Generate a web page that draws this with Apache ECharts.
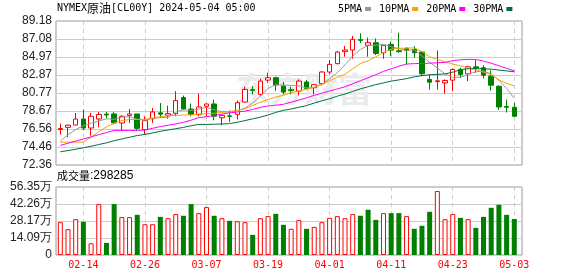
<!DOCTYPE html>
<html lang="zh">
<head>
  <meta charset="utf-8" />
  <title>NYMEX原油 K线</title>
</head>
<body style="margin: 0">
  <div id="container" style="width: 578px; height: 276px"></div>

  <script src="https://fastly.jsdelivr.net/npm/echarts@6/dist/echarts.min.js"></script>

  <script>
    // 日期
    var dates = [
      '02-09', '02-12', '02-13', '02-14', '02-15', '02-16', '02-19', '02-20', '02-21', '02-22',
      '02-23', '02-26', '02-27', '02-28', '02-29', '03-01', '03-04', '03-05', '03-06', '03-07',
      '03-08', '03-11', '03-12', '03-13', '03-14', '03-15', '03-18', '03-19', '03-20', '03-21',
      '03-22', '03-25', '03-26', '03-27', '03-28', '04-01', '04-02', '04-03', '04-04', '04-05',
      '04-08', '04-09', '04-10', '04-11', '04-12', '04-15', '04-16', '04-17', '04-18', '04-19',
      '04-22', '04-23', '04-24', '04-25', '04-26', '04-29', '04-30', '05-01', '05-02', '05-03'
    ];

    // 开盘, 收盘, 最低, 最高
    var ohlc = [
      [76.50, 76.62, 75.90, 77.20], [76.75, 77.00, 75.60, 77.10], [77.03, 77.73, 77.00, 78.44],
      [77.73, 76.68, 76.41, 78.83], [76.68, 78.05, 75.78, 78.44], [77.73, 78.25, 76.76, 78.56],
      [78.30, 78.20, 77.80, 78.56], [78.32, 77.27, 77.11, 78.56], [77.27, 78.05, 76.41, 78.17],
      [78.13, 78.32, 77.27, 78.90], [78.32, 76.64, 76.41, 78.32], [76.50, 77.55, 75.90, 78.05],
      [77.77, 78.56, 77.27, 79.02], [78.45, 78.30, 77.85, 79.60], [78.17, 78.36, 77.77, 79.30],
      [78.36, 79.88, 78.05, 80.98], [80.23, 78.90, 78.80, 80.47], [78.90, 78.25, 78.05, 79.53],
      [78.25, 79.14, 78.05, 80.70], [79.22, 79.49, 78.00, 79.49], [79.49, 78.05, 77.58, 80.00],
      [77.88, 78.15, 76.98, 78.15], [78.10, 78.05, 77.37, 78.74], [78.27, 79.64, 77.68, 79.90],
      [79.71, 81.19, 79.64, 81.50], [81.15, 81.07, 80.60, 81.58], [80.61, 82.16, 80.41, 82.44],
      [82.28, 82.56, 81.97, 83.14], [82.56, 81.70, 80.99, 82.68], [81.58, 80.88, 80.60, 82.05],
      [81.15, 81.05, 80.60, 81.50], [80.99, 82.16, 80.49, 82.36], [82.05, 81.31, 81.20, 82.28],
      [81.39, 81.74, 80.60, 81.78], [81.86, 83.22, 81.66, 83.33], [83.22, 84.12, 82.95, 84.62],
      [84.20, 85.55, 84.12, 85.67], [85.60, 85.79, 85.01, 86.26], [85.79, 87.04, 84.78, 87.43],
      [87.00, 86.92, 86.57, 87.74], [86.34, 86.65, 85.01, 87.24], [86.64, 85.39, 85.20, 87.14],
      [85.47, 86.33, 84.77, 86.33], [86.45, 85.78, 85.08, 86.76], [85.70, 85.60, 85.47, 87.81],
      [85.98, 85.74, 84.10, 86.13], [85.86, 85.47, 84.88, 86.25], [85.55, 83.01, 82.74, 85.67],
      [82.35, 82.03, 81.17, 82.93], [82.10, 82.20, 81.17, 85.74], [81.95, 82.23, 80.70, 82.35],
      [82.27, 83.52, 80.98, 83.64], [83.52, 82.93, 82.54, 83.72], [83.01, 83.83, 82.15, 83.91],
      [83.83, 83.70, 83.13, 84.60], [83.72, 82.85, 82.46, 83.99], [82.74, 81.68, 81.05, 83.40],
      [81.56, 79.14, 78.80, 81.64], [79.20, 79.10, 78.50, 80.00], [79.10, 78.05, 78.05, 79.60]
    ];

    // 成交量
    var volumes = [
      272000, 214000, 297000, 275000, 97000, 422000, 100000, 422000, 314000, 314000,
      333000, 255000, 255000, 316000, 305000, 339000, 325000, 422000, 347000, 397000,
      325000, 305000, 283000, 280000, 272000, 167000, 305000, 322000, 341000, 250000,
      217000, 289000, 217000, 233000, 272000, 308000, 322000, 305000, 339000, 325000,
      375000, 291000, 347000, 347000, 347000, 322000, 217000, 242000, 358000, 530000,
      297000, 339000, 308000, 297000, 225000, 316000, 391000, 416000, 333000, 298285
    ];

    // 均线
    var ma5 = [
      75.14, 75.90, 76.50, 76.95, 77.25, 77.50, 77.75, 77.70, 77.95, 78.00,
      77.70, 77.60, 77.80, 77.90, 77.90, 78.55, 78.80, 78.75, 78.90, 79.10,
      78.80, 78.60, 78.55, 78.65, 79.00, 79.60, 80.40, 81.30, 81.75, 81.70,
      81.65, 81.60, 81.35, 81.40, 81.80, 82.45, 83.15, 84.05, 85.10, 85.85,
      86.35, 86.35, 86.45, 86.20, 85.95, 85.75, 85.80, 85.10, 84.35, 83.70,
      83.00, 82.60, 82.60, 82.95, 83.25, 83.35, 83.00, 82.25, 81.30, 80.15
    ];
    var ma10 = [
      75.03, 75.03, 75.03, 75.03, 75.60, 76.25, 76.80, 77.25, 77.55, 77.68,
      77.68, 77.70, 77.85, 78.00, 78.10, 78.15, 78.20, 78.22, 78.30, 78.35,
      78.40, 78.50, 78.60, 78.75, 78.95, 79.30, 79.70, 80.00, 80.30, 80.50,
      80.80, 81.00, 81.20, 81.45, 81.80, 82.20, 82.60, 82.95, 83.60, 84.20,
      84.55, 85.00, 85.50, 85.90, 86.00, 86.00, 86.05, 85.60, 85.00, 84.70,
      84.40, 84.15, 83.95, 83.70, 83.50, 83.20, 82.90, 82.30, 81.90, 81.60
    ];
    var ma20 = [
      74.65, 74.90, 75.15, 75.40, 75.65, 75.90, 76.15, 76.40, 76.40, 76.40,
      76.40, 76.45, 76.65, 76.85, 77.00, 77.15, 77.35, 77.60, 77.90, 78.00,
      78.15, 78.30, 78.45, 78.55, 78.65, 78.85, 79.10, 79.25, 79.35, 79.45,
      79.70, 79.95, 80.20, 80.50, 80.75, 81.00, 81.25, 81.50, 81.85, 82.20,
      82.55, 82.90, 83.30, 83.60, 83.90, 84.15, 84.20, 84.22, 84.25, 84.30,
      84.35, 84.55, 84.65, 84.70, 84.68, 84.50, 84.25, 83.95, 83.65, 83.35
    ];
    var ma30 = [
      73.90, 74.05, 74.20, 74.37, 74.55, 74.75, 74.95, 75.20, 75.40, 75.60,
      75.80, 75.93, 76.10, 76.30, 76.45, 76.60, 76.75, 76.95, 77.10, 77.10,
      77.12, 77.15, 77.20, 77.35, 77.55, 77.75, 77.95, 78.20, 78.50, 78.75,
      78.90, 79.10, 79.30, 79.60, 79.85, 80.10, 80.40, 80.65, 80.95, 81.25,
      81.50, 81.75, 81.95, 82.15, 82.30, 82.45, 82.65, 82.80, 82.90, 82.95,
      83.00, 83.20, 83.50, 83.60, 83.62, 83.60, 83.55, 83.45, 83.35, 83.25
    ];

    // 刻度标签
    var priceTicks = ['72.36', '74.46', '76.56', '78.67', '80.77', '82.87', '84.97', '87.08', '89.18'];
    var volTicks = ['0', '14.09万', '28.17万', '42.26万', '56.35万'];

    var priceMin = 72.36, priceMax = 89.18, volMax = 563500;

    var red = '#ff0000', green = '#008000';
    var mono = '"DejaVu Sans Mono", monospace';

    // 成交量颜色: 收盘价比前一天高为红
    var volData = [];
    for (var i = 0; i < volumes.length; i++) {
      var up = i === 0 || ohlc[i][1] >= ohlc[i - 1][1];
      volData.push({
        value: volumes[i],
        itemStyle: up ? { color: '#fff', borderColor: red, borderWidth: 1 } : { color: green }
      });
    }

    var showIdx = function (index) { return (index - 3) % 8 === 0; };

    var dom = document.getElementById('container');
    var myChart = echarts.init(dom);

    var option = {
      animation: false,
      title: [
        {
          text: '{a|NYMEX}{b|原油}{a|[CL00Y] 2024-05-04 05:00}',
          left: 57, top: 2, padding: 0,
          textStyle: {
            fontWeight: 'normal',
            rich: {
              a: { fontFamily: mono, fontSize: 10, fontWeight: 'normal', color: '#000' },
              b: { fontFamily: '"Noto Sans CJK SC"', fontSize: 12, fontWeight: 'normal', color: '#000' }
            }
          }
        },
        {
          text: '{c|成交量}{n|:' + volumes[volumes.length - 1] + '}',
          left: 57, top: 170, padding: 0,
          textStyle: {
            fontWeight: 'normal',
            rich: {
              c: { fontFamily: '"Noto Sans CJK SC"', fontSize: 11, fontWeight: 'normal', color: '#000' },
              n: { fontFamily: '"Liberation Sans"', fontSize: 12, fontWeight: 'normal', color: '#000' }
            }
          }
        }
      ],
      legend: {
        data: ['5PMA', '10PMA', '20PMA', '30PMA'],
        left: 338, top: 4, padding: 0,
        icon: 'rect', itemWidth: 6, itemHeight: 4, itemGap: 8,
        align: 'right', selectedMode: false,
        textStyle: { fontFamily: mono, fontSize: 10, color: '#000', padding: [0, -2, 0, 0] }
      },
      graphic: [
        {
          type: 'text', left: 236, top: 72, z: 1,
          style: { text: '东方财富', font: 'bold 34px "Noto Sans CJK SC"', fill: '#ebebeb' }
        }
      ],
      grid: [
        { left: 56, top: 21, width: 466, height: 144, show: true, borderColor: '#999', borderWidth: 1 },
        { left: 56, top: 187, width: 466, height: 68, show: true, borderColor: '#999', borderWidth: 1 },
        { left: 60.3, top: 21, width: 454, height: 144 },
        { left: 60.3, top: 187, width: 454, height: 68 }
      ],
      xAxis: [
        { type: 'value', gridIndex: 0, min: 0, max: 1, show: false },
        { type: 'value', gridIndex: 1, min: 0, max: 1, show: false },
        {
          type: 'category', gridIndex: 2, data: dates, boundaryGap: false,
          axisLine: { show: false }, axisTick: { show: false }, axisLabel: { show: false },
          splitLine: { show: true, interval: showIdx, lineStyle: { color: '#ccc', type: [4, 4] } }
        },
        {
          type: 'category', gridIndex: 3, data: dates, boundaryGap: false,
          axisLine: { show: false }, axisTick: { show: false },
          axisLabel: { interval: showIdx, color: red, fontFamily: mono, fontSize: 10, margin: 5 },
          splitLine: { show: true, interval: showIdx, lineStyle: { color: '#ccc', type: [4, 4] } }
        }
      ],
      yAxis: [
        {
          type: 'value', gridIndex: 0, min: 0, max: 8, interval: 1,
          axisLine: { show: false }, axisTick: { show: false },
          axisLabel: {
            formatter: function (v) { return priceTicks[v]; },
            color: '#222', fontFamily: '"Liberation Sans"', fontSize: 12, margin: 4
          },
          splitLine: { lineStyle: { color: '#ccc' } }
        },
        {
          type: 'value', gridIndex: 1, min: 0, max: 4, interval: 1,
          axisLine: { show: false }, axisTick: { show: false },
          axisLabel: {
            formatter: function (v) { return volTicks[v]; },
            color: '#222', fontFamily: '"Liberation Sans"', fontSize: 12, margin: 4
          },
          splitLine: { lineStyle: { color: '#ccc' } }
        },
        { type: 'value', gridIndex: 2, min: priceMin, max: priceMax, show: false },
        { type: 'value', gridIndex: 3, min: 0, max: volMax, show: false }
      ],
      series: [
        {
          type: 'candlestick', xAxisIndex: 2, yAxisIndex: 2,
          data: ohlc, barWidth: 5, clip: false,
          itemStyle: { color: '#fff', color0: green, borderColor: red, borderColor0: green, borderWidth: 1 }
        },
        { name: '5PMA', type: 'line', xAxisIndex: 2, yAxisIndex: 2, data: ma5, symbol: 'none', color: '#999', lineStyle: { width: 1 } },
        { name: '10PMA', type: 'line', xAxisIndex: 2, yAxisIndex: 2, data: ma10, symbol: 'none', color: '#f4a300', lineStyle: { width: 1 } },
        { name: '20PMA', type: 'line', xAxisIndex: 2, yAxisIndex: 2, data: ma20, symbol: 'none', color: '#ff00ff', lineStyle: { width: 1 } },
        { name: '30PMA', type: 'line', xAxisIndex: 2, yAxisIndex: 2, data: ma30, symbol: 'none', color: '#00703c', lineStyle: { width: 1 } },
        {
          type: 'bar', xAxisIndex: 3, yAxisIndex: 3,
          data: volData, barWidth: 5, clip: false
        }
      ]
    };

    myChart.setOption(option);
  </script>
</body>
</html>
